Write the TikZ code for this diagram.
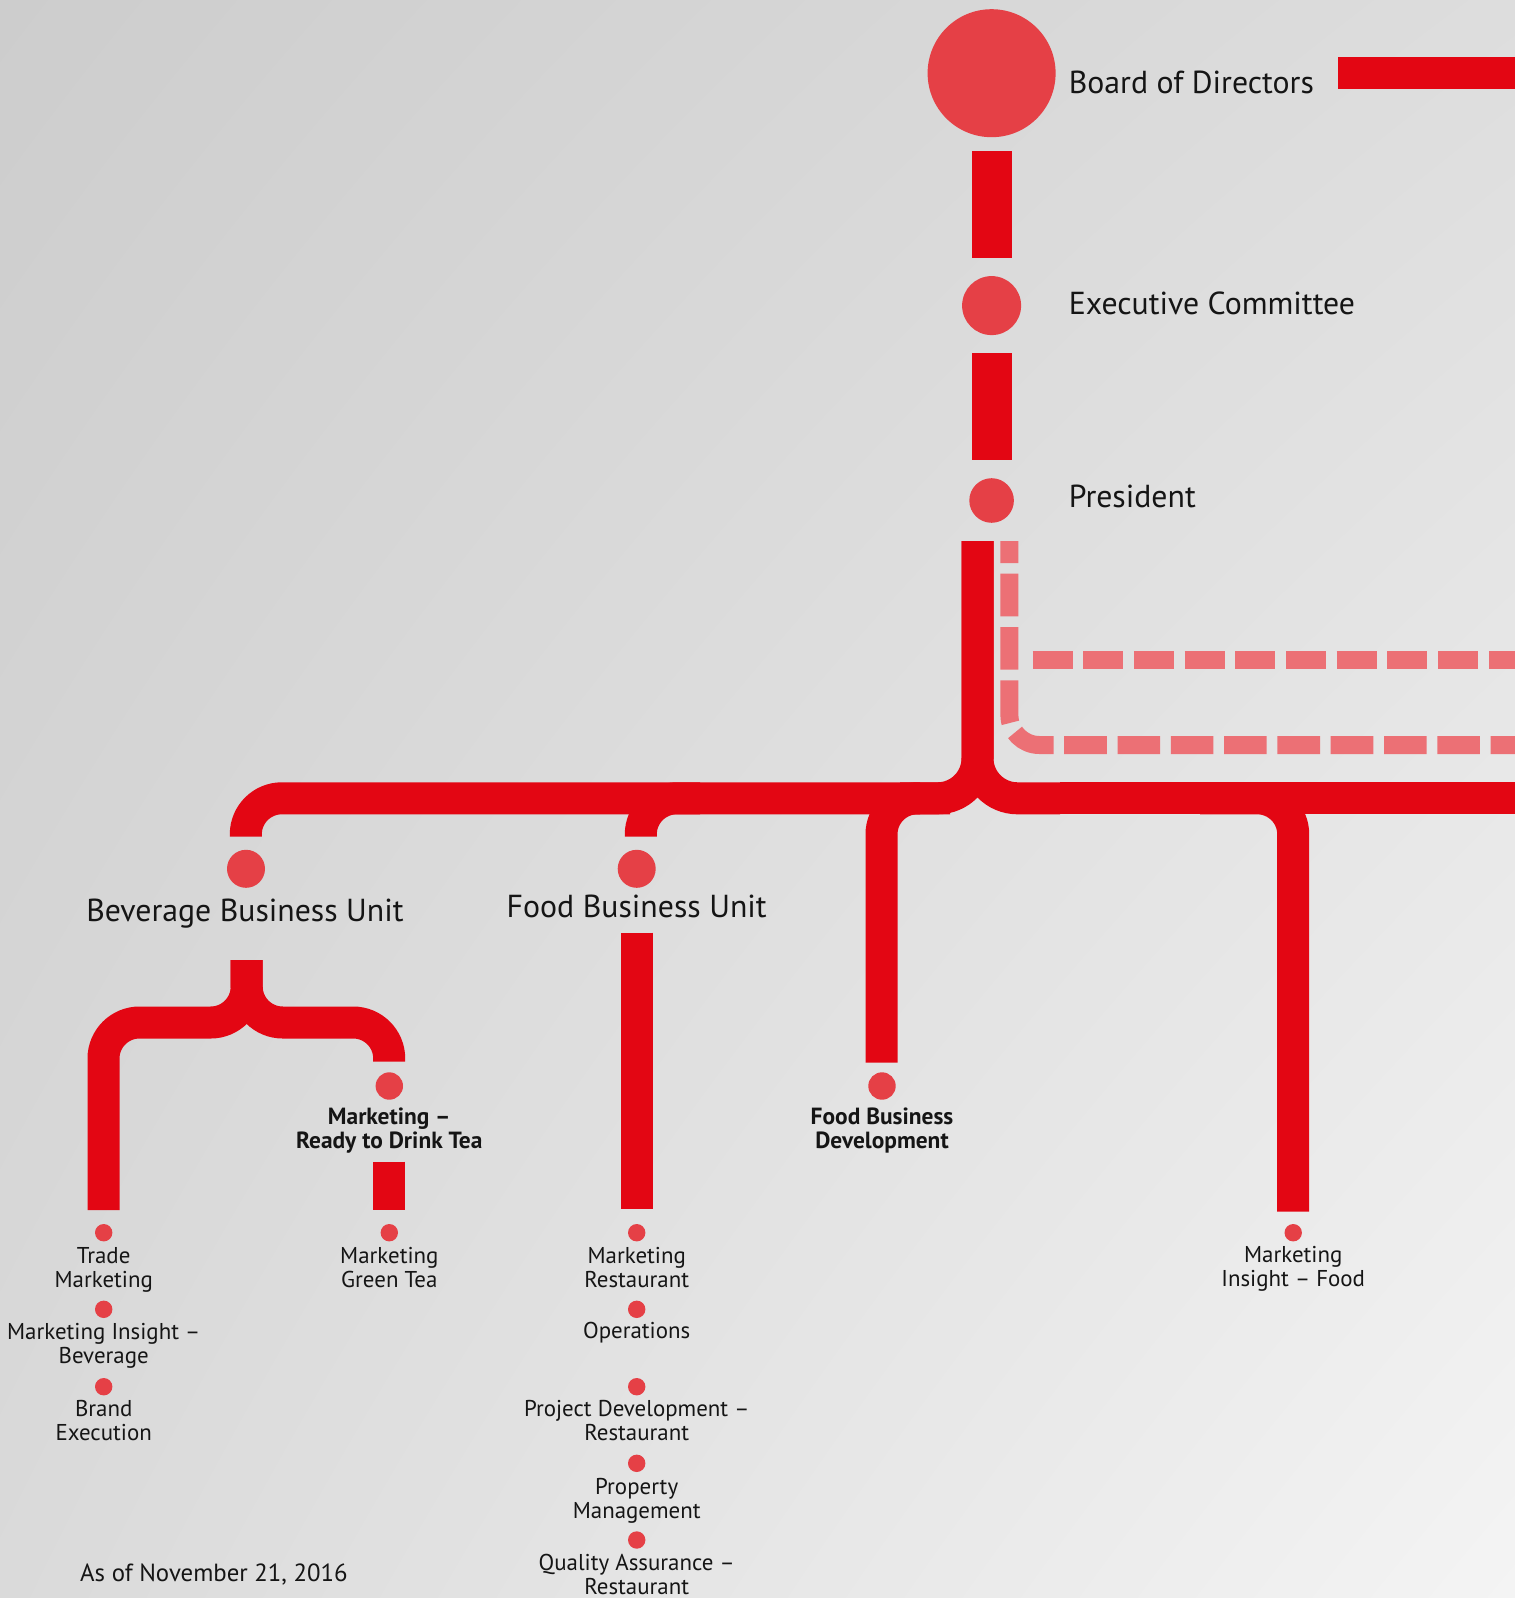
\documentclass[tikz,border=0pt]{standalone}
\usepackage{fontspec}
\setmainfont{PT Sans}
\usetikzlibrary{shadings}
\definecolor{barred}{HTML}{E30613}
\definecolor{dotred}{HTML}{E54046}
\definecolor{dashred}{HTML}{EC7075}
\definecolor{ink}{HTML}{151515}
\definecolor{bgA}{HTML}{CDCDCD}
\definecolor{bgB}{HTML}{DDDDDD}
\definecolor{bgC}{HTML}{DADADA}
\definecolor{bgD}{HTML}{F4F4F4}
\begin{document}
\begin{tikzpicture}[x=1bp,y=-1bp,
  bar/.style={draw=barred, line width=32bp},
  widebar/.style={draw=barred, line width=40bp},
  dashline/.style={draw=dashred, line width=18bp},
  dot/.style={circle, fill=dotred, draw=none, inner sep=0pt},
  bigtext/.style={font=\fontsize{31.8bp}{36bp}\selectfont, text=ink, inner sep=0pt},
  midtext/.style={font=\fontsize{23.4bp}{24.3bp}\selectfont\bfseries, text=ink, align=center, inner sep=0pt},
  smalltext/.style={font=\fontsize{22.9bp}{24bp}\selectfont, text=ink, align=center, inner sep=0pt},
  datetext/.style={font=\fontsize{24.8bp}{26bp}\selectfont, text=ink, inner sep=0pt},
]
\useasboundingbox (0,0) rectangle (1515,1598);
\shade[upper left=bgA, upper right=bgB, lower left=bgC, lower right=bgD] (0,0) rectangle (1515,1598);
\clip (0,0) rectangle (1515,1598);

% ---------- top chain ----------
\node[dot, minimum size=128bp] (board) at (991.6,73.2) {};
\node[dot, minimum size=59bp] (exec) at (991.6,305.6) {};
\node[dot, minimum size=44.6bp] (pres) at (991.6,500.5) {};
\node[bigtext, anchor=base west] (boardT) at (1068.6,94) {Board of Directors};
\node[bigtext, anchor=base west] (execT) at (1068.6,314.3) {Executive Committee};
\node[bigtext, anchor=base west] (presT) at (1068.6,507) {President};

\coordinate (s1a) at (991.8,151);
\coordinate (s1b) at (991.8,258);
\coordinate (s2a) at (991.8,353);
\coordinate (s2b) at (991.8,460);
\draw[widebar] (s1a) -- (s1b);
\draw[widebar] (s2a) -- (s2b);
\coordinate (topbarA) at (1338,73.2);
\coordinate (topbarB) at (1515,73.2);
\draw[bar] (topbarA) -- (topbarB);

% ---------- dashed lines ----------
\coordinate (dtop) at (1009.4,541);
\coordinate (dcorner) at (1009.4,745);
\coordinate (dend) at (1515,745);
\draw[dashline, dash pattern=on 42.6bp off 10.7bp, dash phase=20.6bp, rounded corners=30bp] (dtop) -- (dcorner) -- (dend);
\coordinate (d1a) at (1032.5,660);
\coordinate (d1b) at (1515,660);
\draw[dashline, dash pattern=on 40bp off 10.7bp] (d1a) -- (d1b);

% ---------- trunk and main bar ----------
\coordinate (trunktop) at (977.5,541);
\coordinate (junction) at (977.5,798.3);
\coordinate (jl) at (900,798.3);
\coordinate (jr) at (1060,798.3);
\coordinate (barleft) at (245.8,798.3);
\coordinate (bevstub) at (245.8,836.7);
\coordinate (barright) at (1515,798.3);
\draw[bar, rounded corners=40bp] (trunktop) -- (junction) -- (jl);
\draw[bar, rounded corners=40bp] (trunktop) -- (junction) -- (jr);
\draw[bar] (jr) -- (barright);
\draw[bar, rounded corners=36bp] (920,798.3) -- (barleft) -- (bevstub);

% food stub
\coordinate (foodcorner) at (640.8,798.3);
\coordinate (foodstub) at (640.8,836.7);
\draw[bar, rounded corners=36bp] (700,798.3) -- (foodcorner) -- (foodstub);
% food business development branch
\coordinate (fbdcorner) at (881.5,798.3);
\coordinate (fbdend) at (881.5,1062.7);
\draw[bar, rounded corners=36bp] (950,798.3) -- (fbdcorner) -- (fbdend);
% marketing insight food branch
\coordinate (mifcorner) at (1293.2,798.3);
\coordinate (mifend) at (1293.2,1211.7);
\draw[bar, rounded corners=36bp] (1200,798.3) -- (mifcorner) -- (mifend);

% ---------- business units ----------
\node[dot, minimum size=38bp] (bev) at (246,868.8) {};
\node[dot, minimum size=38bp] (food) at (636.7,868.8) {};
\node[bigtext, anchor=base] (bevT) at (245,921) {Beverage Business Unit};
\node[bigtext, anchor=base] (foodT) at (636.7,917.7) {Food Business Unit};

% beverage brace
\coordinate (bevtop) at (246.7,960);
\coordinate (bevmid) at (246.7,1022.5);
\coordinate (bevLc) at (103.5,1022.5);
\coordinate (bevLend) at (103.5,1210);
\coordinate (bevRc) at (389.2,1022.5);
\coordinate (bevRend) at (389.2,1061.7);
\draw[bar, rounded corners=36bp] (bevtop) -- (bevmid) -- (bevLc) -- (bevLend);
\draw[bar, rounded corners=36bp] (bevtop) -- (bevmid) -- (bevRc) -- (bevRend);
\coordinate (rtdA) at (389.2,1161.7);
\coordinate (rtdB) at (389.2,1210);
\draw[bar] (rtdA) -- (rtdB);

% food vertical
\coordinate (foodA) at (636.7,932.7);
\coordinate (foodB) at (636.7,1209);
\draw[bar] (foodA) -- (foodB);

% ---------- mid level ----------
\node[dot, minimum size=27.4bp] (rtd) at (389.3,1086) {};
\node[dot, minimum size=27.4bp] (fbd) at (882,1086) {};
\node[midtext, anchor=base] (rtdT) at (389.3,1148.3) {Marketing –\\Ready to Drink Tea};
\node[midtext, anchor=base] (fbdT) at (882,1148.3) {Food Business\\Development};

% ---------- leaves ----------
\foreach \nm/\x/\y in {tm/103.7/1232.7, mib/103.7/1309.3, be/103.7/1386.7, mgt/389.3/1232.7,
  mr/636.7/1232.7, op/636.7/1309.3, pd/636.7/1386.7, pm/636.7/1463.3, qa/636.7/1540, mif/1293.2/1232.7}
  \node[dot, minimum size=17.4bp] (\nm) at (\x,\y) {};

\node[smalltext, anchor=base] (tmT) at (103.7,1287.3) {Trade\\Marketing};
\node[smalltext, anchor=base] (mibT) at (103.7,1363) {Marketing Insight –\\Beverage};
\node[smalltext, anchor=base] (beT) at (103.7,1440.7) {Brand\\Execution};
\node[smalltext, anchor=base] (mgtT) at (389.3,1287.3) {Marketing\\Green Tea};
\node[smalltext, anchor=base] (mrT) at (636.7,1287.3) {Marketing\\Restaurant};
\node[smalltext, anchor=base] (opT) at (636.7,1338.3) {Operations};
\node[smalltext, anchor=base] (pdT) at (636.7,1440.7) {Project Development –\\Restaurant};
\node[smalltext, anchor=base] (pmT) at (636.7,1518) {Property\\Management};
\node[smalltext, anchor=base] (qaT) at (636.7,1594.7) {Quality Assurance –\\Restaurant};
\node[smalltext, anchor=base] (mifT) at (1293.2,1286) {Marketing\\Insight – Food};

\node[datetext, anchor=base west] (date) at (80,1581.7) {As of November 21, 2016};
\end{tikzpicture}
\end{document}
